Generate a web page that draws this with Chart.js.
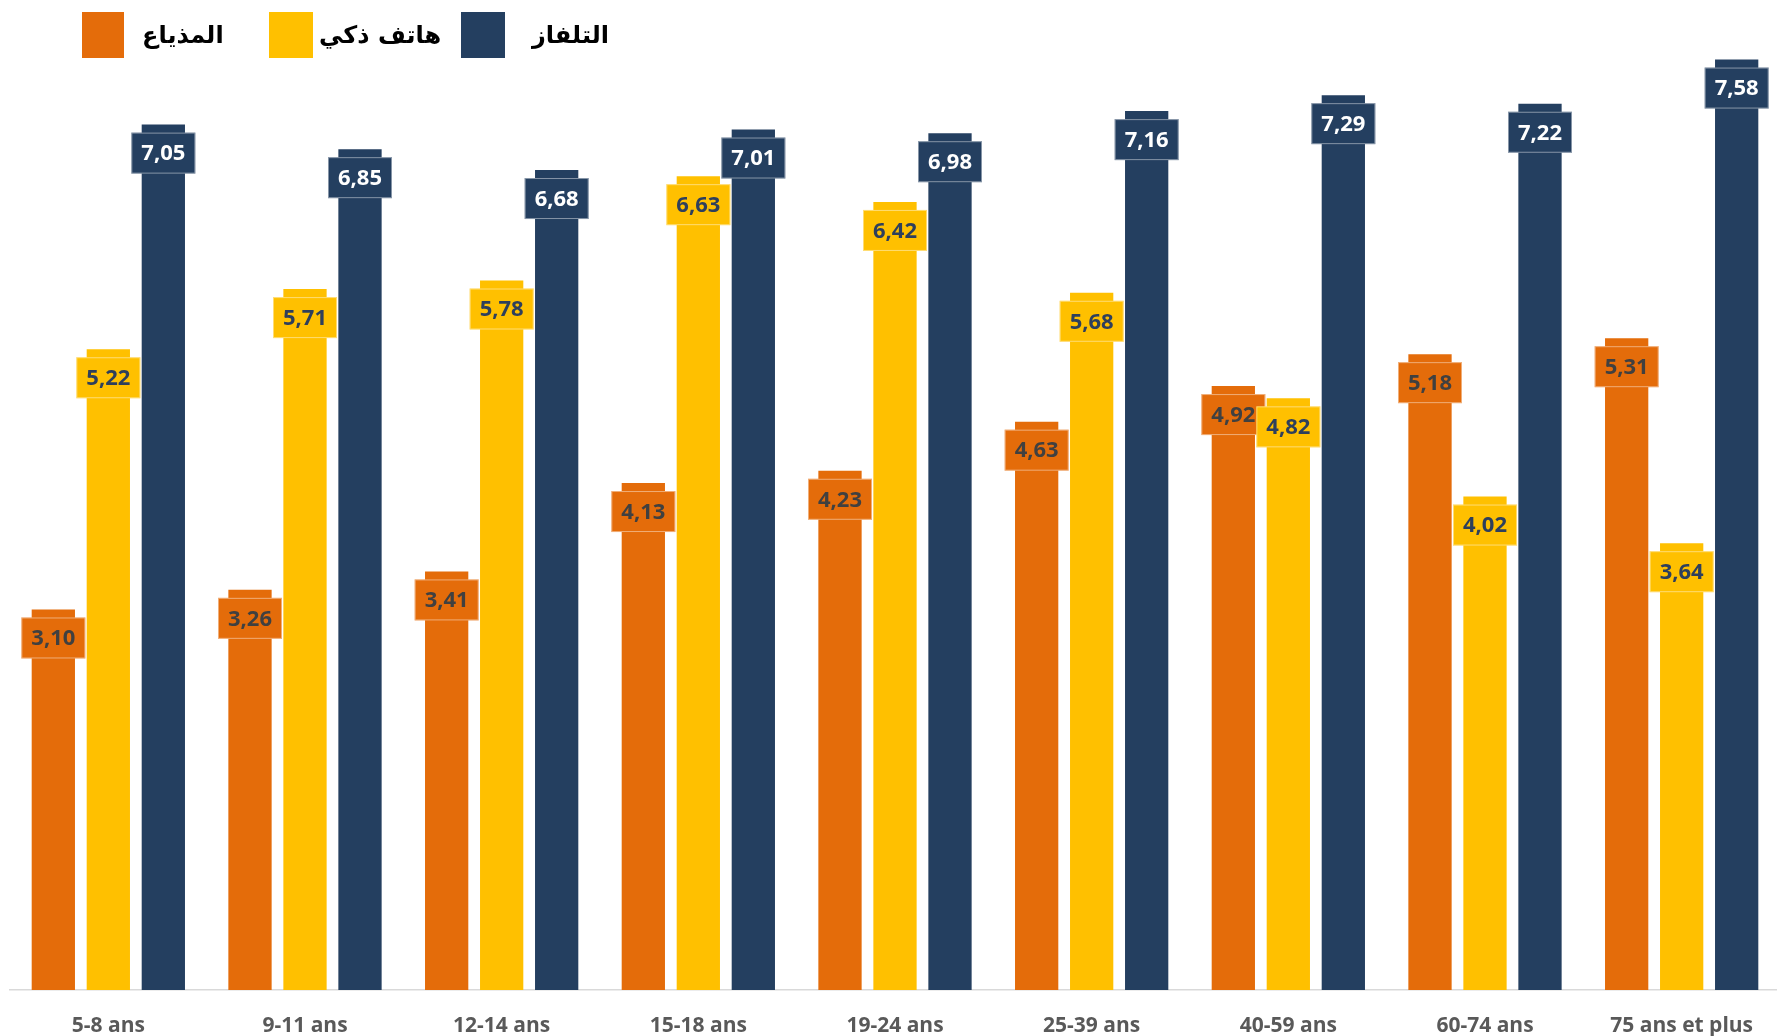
<!DOCTYPE html>
<html>
<head>
<meta charset="utf-8">
<script src="https://cdn.jsdelivr.net/npm/chart.js@4/dist/chart.umd.min.js"></script>
<style>
  html, body { margin: 0; padding: 0; background: #fff; overflow: hidden; }
  #wrap { position: absolute; left: 0; top: 0; width: 1780px; height: 1036px; }
  #legend { position: absolute; left: 0; top: 0; width: 700px; height: 70px; z-index: 2; }
  .lg-box { position: absolute; top: 12px; height: 46px; }
  .lg-text { position: absolute; top: 12px; height: 46px; line-height: 46px; text-align: left;
             font-family: "DejaVu Sans", sans-serif; font-weight: bold; font-size: 24px; color: #000;
             direction: rtl; white-space: nowrap; }
</style>
</head>
<body>
<div id="wrap">
  <canvas id="c" width="1780" height="1036"></canvas>
  <div id="legend"></div>
</div>
<script>
const categories = ['5-8 ans','9-11 ans','12-14 ans','15-18 ans','19-24 ans','25-39 ans','40-59 ans','60-74 ans','75 ans et plus'];
const seriesNames = ['المذياع', 'هاتف ذكي', 'التلفاز'];
const radio = [3.10, 3.26, 3.41, 4.13, 4.23, 4.63, 4.92, 5.18, 5.31];
const smartphone = [5.22, 5.71, 5.78, 6.63, 6.42, 5.68, 4.82, 4.02, 3.64];
const tv = [7.05, 6.85, 6.68, 7.01, 6.98, 7.16, 7.29, 7.22, 7.58];

const colors = ['#E46C0A', '#FFC000', '#243F60'];
const labelColors = ['#404040', '#2E3F5C', '#FFFFFF'];

// HTML legend (positions in CSS, not data)
const legendGeom = [
  { box: [82, 42], text: 142 },
  { box: [269, 44], text: 319 },
  { box: [461, 44], text: 532 }
];
const legendEl = document.getElementById('legend');
seriesNames.forEach((name, i) => {
  const b = document.createElement('div');
  b.className = 'lg-box';
  b.style.left = legendGeom[i].box[0] + 'px';
  b.style.width = legendGeom[i].box[1] + 'px';
  b.style.background = colors[i];
  legendEl.appendChild(b);
  const t = document.createElement('div');
  t.className = 'lg-text';
  t.style.left = legendGeom[i].text + 'px';
  t.textContent = name;
  legendEl.appendChild(t);
});

const valueLabels = {
  id: 'valueLabels',
  afterDatasetsDraw(chart) {
    const ctx = chart.ctx;
    ctx.save();
    chart.data.datasets.forEach((ds, di) => {
      const meta = chart.getDatasetMeta(di);
      meta.data.forEach((el, i) => {
        const v = ds.data[i];
        const x = el.x, y = el.y;
        const w = 64, h = 41, off = 8;
        ctx.fillStyle = colors[di];
        ctx.fillRect(x - w / 2, y + off, w, h);
        ctx.strokeStyle = 'rgba(255,255,255,0.45)';
        ctx.lineWidth = 1;
        ctx.strokeRect(x - w / 2 + 0.5, y + off + 0.5, w - 1, h - 1);
        ctx.fillStyle = labelColors[di];
        ctx.font = 'bold 22px "Open Sans", sans-serif';
        ctx.textAlign = 'center';
        ctx.textBaseline = 'middle';
        ctx.fillText(v.toFixed(2).replace('.', ','), x, y + off + h / 2 + 1);
      });
    });
    ctx.restore();
  }
};

new Chart(document.getElementById('c'), {
  type: 'bar',
  data: {
    labels: categories,
    datasets: [
      { label: seriesNames[0], data: radio, backgroundColor: colors[0] },
      { label: seriesNames[1], data: smartphone, backgroundColor: colors[1] },
      { label: seriesNames[2], data: tv, backgroundColor: colors[2] }
    ]
  },
  options: {
    responsive: false,
    animation: false,
    devicePixelRatio: 1,
    layout: { padding: { left: 10, top: 8, right: 0, bottom: 0 } },
    datasets: { bar: { categoryPercentage: 0.839, barPercentage: 0.787, borderWidth: 0 } },
    plugins: { legend: { display: false }, tooltip: { enabled: false } },
    scales: {
      y: { display: false, min: 0, max: 8 },
      x: {
        grid: { display: false, drawTicks: false },
        border: { display: true, color: '#D9D9D9', width: 1.5 },
        ticks: {
          color: '#595959',
          font: { family: '"Open Sans", sans-serif', weight: 'bold', size: 21 },
          padding: 23,
          maxRotation: 0,
          autoSkip: false
        },
        afterFit(scale) { scale.height = 46; }
      }
    }
  },
  plugins: [valueLabels]
});
</script>
</body>
</html>
